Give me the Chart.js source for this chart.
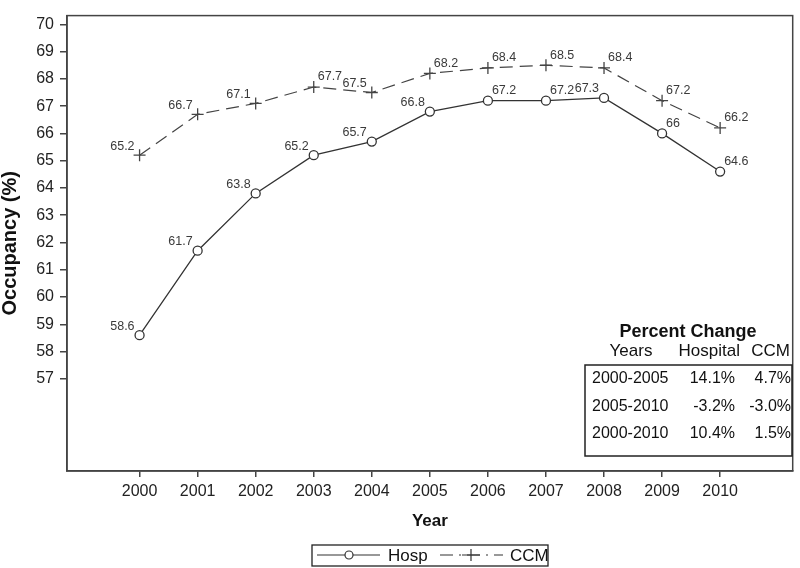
<!DOCTYPE html>
<html>
<head>
<meta charset="utf-8">
<script src="https://cdn.jsdelivr.net/npm/chart.js@4/dist/chart.umd.min.js"></script>
<style>
	body { margin: 0; background: #fff; }
	#wrap { width: 800px; height: 568px; }
</style>
</head>
<body>
<div id="wrap"><canvas id="occupancy-chart" width="800" height="568"></canvas></div>
<script>
const years = [2000, 2001, 2002, 2003, 2004, 2005, 2006, 2007, 2008, 2009, 2010]
const hospValues = [58.6, 61.7, 63.8, 65.2, 65.7, 66.8, 67.2, 67.2, 67.3, 66, 64.6]
const ccmValues = [65.2, 66.7, 67.1, 67.7, 67.5, 68.2, 68.4, 68.5, 68.4, 67.2, 66.2]
const yTicks = [57, 58, 59, 60, 61, 62, 63, 64, 65, 66, 67, 68, 69, 70]

// which side of the point each value label sits on
const hospLabelSide = ['L', 'L', 'L', 'L', 'L', 'L', 'R', 'R', 'L', 'R', 'R']
const ccmLabelSide = ['L', 'L', 'L', 'R', 'L', 'R', 'R', 'R', 'R', 'R', 'R']

const tableTitle = 'Percent Change'
const tableHeader = ['Years', 'Hospital', 'CCM']
const tableYears = ['2000-2005', '2005-2010', '2000-2010']
const tableHosp = ['14.1%', '-3.2%', '10.4%']
const tableCcm = ['4.7%', '-3.0%', '1.5%']

const FONT = "'Liberation Sans', Arial, sans-serif"
const LINE = '#333333'
Chart.defaults.font.family = FONT
Chart.defaults.color = '#222'

const frame = {
	id: 'frame',
	afterDraw(chart) {
		const { ctx, chartArea: a } = chart
		ctx.save()
		ctx.strokeStyle = '#444'
		ctx.lineWidth = 1.5
		ctx.strokeRect(a.left, a.top, a.right - a.left, a.bottom - a.top)
		ctx.restore()
	},
}

const valueLabels = {
	id: 'valueLabels',
	afterDatasetsDraw(chart) {
		const ctx = chart.ctx
		const sides = [hospLabelSide, ccmLabelSide]
		ctx.save()
		ctx.font = '12.5px ' + FONT
		ctx.fillStyle = '#3a3a3a'
		ctx.textBaseline = 'middle'
		chart.data.datasets.forEach((ds, i) => {
			chart.getDatasetMeta(i).data.forEach((pt, j) => {
				const text = String(ds.data[j].y)
				if (sides[i][j] === 'L') {
					ctx.textAlign = 'right'
					ctx.fillText(text, pt.x - 5, pt.y - 9)
				} else {
					ctx.textAlign = 'left'
					ctx.fillText(text, pt.x + 4, pt.y - 10)
				}
			})
		})
		ctx.restore()
	},
}

const changeTable = {
	id: 'changeTable',
	afterDraw(chart) {
		const ctx = chart.ctx
		ctx.save()
		ctx.fillStyle = '#111'
		ctx.textBaseline = 'middle'
		ctx.textAlign = 'center'
		ctx.font = 'bold 18px ' + FONT
		ctx.fillText(tableTitle, 688, 332)
		ctx.font = '17px ' + FONT
		ctx.fillText(tableHeader[0], 631, 351)
		ctx.textAlign = 'right'
		ctx.fillText(tableHeader[1], 740, 351)
		ctx.fillText(tableHeader[2], 790, 351)
		ctx.strokeStyle = '#222'
		ctx.lineWidth = 1.5
		ctx.strokeRect(585, 365, 207, 91)
		ctx.font = '16px ' + FONT
		const rowY = [379, 407, 434]
		tableYears.forEach((y, i) => {
			ctx.textAlign = 'left'
			ctx.fillText(y, 592, rowY[i])
			ctx.textAlign = 'right'
			ctx.fillText(tableHosp[i], 735, rowY[i])
			ctx.fillText(tableCcm[i], 791, rowY[i])
		})
		ctx.restore()
	},
}

const legendBox = {
	id: 'legendBox',
	afterDraw(chart) {
		const ctx = chart.ctx
		const y = 555
		ctx.save()
		ctx.strokeStyle = '#222'
		ctx.lineWidth = 1.3
		ctx.strokeRect(312, 545, 236, 21)
		ctx.strokeStyle = LINE
		ctx.lineWidth = 1.2
		// Hosp sample
		ctx.beginPath()
		ctx.moveTo(317, y)
		ctx.lineTo(380, y)
		ctx.stroke()
		ctx.fillStyle = '#fff'
		ctx.beginPath()
		ctx.arc(349, y, 4, 0, Math.PI * 2)
		ctx.fill()
		ctx.stroke()
		// CCM sample, dash-dot
		ctx.setLineDash([13, 6, 2, 6])
		ctx.beginPath()
		ctx.moveTo(440, y)
		ctx.lineTo(503, y)
		ctx.stroke()
		ctx.setLineDash([])
		ctx.beginPath()
		ctx.moveTo(462, y)
		ctx.lineTo(480, y)
		ctx.moveTo(471, y - 6)
		ctx.lineTo(471, y + 6)
		ctx.stroke()
		ctx.fillStyle = '#111'
		ctx.font = '17px ' + FONT
		ctx.textBaseline = 'middle'
		ctx.textAlign = 'left'
		ctx.fillText(chart.data.datasets[0].label, 388, y + 1)
		ctx.fillText(chart.data.datasets[1].label, 510, y + 1)
		ctx.restore()
	},
}

function drawOccupancyChart() {
	const canvas = document.getElementById('occupancy-chart')
	new Chart(canvas, {
		type: 'line',
		data: {
			datasets: [
				{
					label: 'Hosp',
					data: years.map((yr, i) => ({ x: yr, y: hospValues[i] })),
					borderColor: LINE,
					borderWidth: 1.3,
					pointStyle: 'circle',
					pointRadius: 4.5,
					pointBorderWidth: 1.3,
					pointBackgroundColor: '#fff',
					pointBorderColor: LINE,
					tension: 0,
				},
				{
					label: 'CCM',
					data: years.map((yr, i) => ({ x: yr, y: ccmValues[i] })),
					borderColor: '#444',
					borderWidth: 1.2,
					borderDash: [13, 7],
					pointStyle: 'cross',
					pointRadius: 6,
					pointBorderWidth: 1.3,
					pointBorderColor: '#444',
					tension: 0,
				},
			],
		},
		options: {
			responsive: false,
			animation: false,
			layout: { padding: { top: 2, right: 2, bottom: 30, left: 0 } },
			plugins: {
				legend: { display: false },
				tooltip: { enabled: false },
			},
			scales: {
				x: {
					type: 'linear',
					min: 1998.75,
					max: 2011.25,
					afterBuildTicks: scale => {
						scale.ticks = years.map(v => ({ value: v }))
					},
					afterFit: scale => {
						scale.height = 67
					},
					grid: { drawOnChartArea: false, tickLength: 6, color: '#444', lineWidth: 1.5 },
					border: { color: '#444', width: 1.5 },
					ticks: {
						padding: 5,
						color: '#222',
						font: { size: 16 },
						maxRotation: 0,
						callback: v => String(v),
					},
					title: {
						display: true,
						text: 'Year',
						color: '#111',
						font: { size: 17, weight: 'bold' },
						padding: { top: 0, bottom: 6 },
					},
				},
				y: {
					min: 53.62,
					max: 70.32,
					afterBuildTicks: scale => {
						scale.ticks = yTicks.map(v => ({ value: v }))
					},
					afterFit: scale => {
						scale.width = 67
					},
					grid: { drawOnChartArea: false, tickLength: 7, color: '#444', lineWidth: 1.5 },
					border: { color: '#444', width: 1.5 },
					ticks: {
						padding: 6,
						color: '#222',
						font: { size: 16 },
						callback: v => String(v),
					},
					title: {
						display: true,
						text: 'Occupancy (%)',
						color: '#111',
						font: { size: 20, weight: 'bold' },
						padding: { top: -2, bottom: 0 },
					},
				},
			},
		},
		plugins: [frame, valueLabels, changeTable, legendBox],
	})
}
drawOccupancyChart()
</script>
</body>
</html>
